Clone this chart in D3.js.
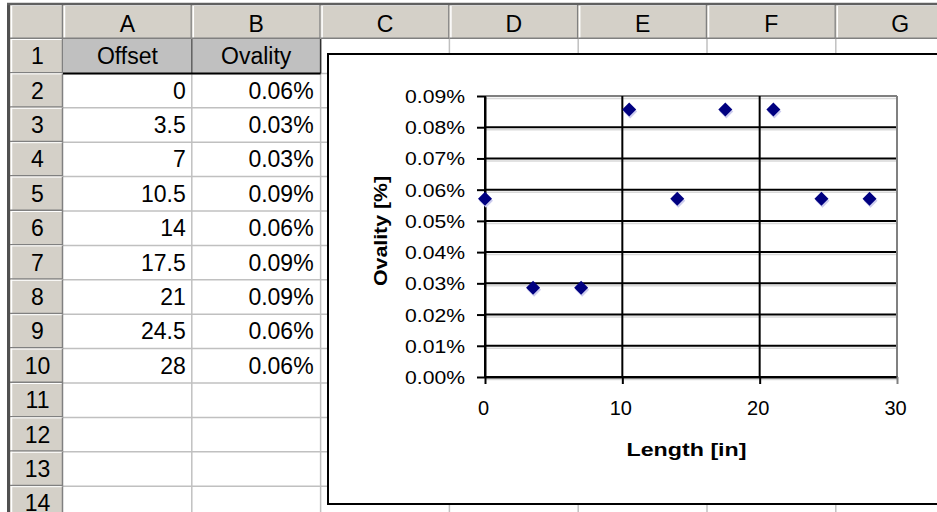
<!DOCTYPE html>
<html>
<head>
<meta charset="utf-8">
<script src="https://cdn.jsdelivr.net/npm/d3@7"></script>
<style>
  html, body { margin: 0; padding: 0; background: #fff; }
  svg { display: block; }
  text { font-family: "Liberation Sans", Arial, sans-serif; }
</style>
</head>
<body>
<svg id="chart" width="937" height="512"></svg>
<script>
// ---------- data ----------
const colLetters = ["A", "B", "C", "D", "E", "F", "G"];
const rowNumbers = [1, 2, 3, 4, 5, 6, 7, 8, 9, 10, 11, 12, 13, 14];
const headerLabels = ["Offset", "Ovality"];
const offsets = [0, 3.5, 7, 10.5, 14, 17.5, 21, 24.5, 28];
const ovality = [0.0571, 0.0286, 0.0286, 0.0857, 0.0571, 0.0857, 0.0857, 0.0571, 0.0571]; // percent
const yTicks = [0, 0.01, 0.02, 0.03, 0.04, 0.05, 0.06, 0.07, 0.08, 0.09];
const xTicks = [0, 10, 20, 30];
const xTitle = "Length [in]";
const yTitle = "Ovality [%]";

const svg = d3.select("#chart");
const W = 937, H = 512;

// ---------- spreadsheet geometry ----------
const rowHeadL = 10, colStart = 63, colW = 128.8;
const headTop = 5, headBot = 39, rowH = 34.4;
const colX = i => colStart + i * colW;
const rowY = n => headBot + (n - 1) * rowH;   // top of row n

const sheet = svg.append("g");
sheet.append("rect").attr("width", W).attr("height", H).attr("fill", "#fff");

// grid lines
colLetters.forEach((c, i) => {
  sheet.append("line").attr("x1", colX(i + 1)).attr("x2", colX(i + 1))
    .attr("y1", headBot).attr("y2", H).attr("stroke", "#c0c0c0").attr("stroke-width", 1.5);
});
rowNumbers.forEach(n => {
  sheet.append("line").attr("x1", colStart).attr("x2", W)
    .attr("y1", rowY(n + 1)).attr("y2", rowY(n + 1)).attr("stroke", "#c0c0c0").attr("stroke-width", 1.5);
});

// header cells
function headerCell(x, y, w, h) {
  sheet.append("rect").attr("x", x).attr("y", y).attr("width", w).attr("height", h).attr("fill", "#d4d0c8");
  sheet.append("line").attr("x1", x + 1).attr("x2", x + w).attr("y1", y + 0.5).attr("y2", y + 0.5).attr("stroke", "#fff");
  sheet.append("line").attr("x1", x + 1.5).attr("x2", x + 1.5).attr("y1", y).attr("y2", y + h).attr("stroke", "#fff").attr("stroke-width", 1.5);
  sheet.append("line").attr("x1", x + w - 0.5).attr("x2", x + w - 0.5).attr("y1", y).attr("y2", y + h).attr("stroke", "#808080").attr("stroke-width", 1.5);
  sheet.append("line").attr("x1", x).attr("x2", x + w).attr("y1", y + h - 0.75).attr("y2", y + h - 0.75).attr("stroke", "#808080").attr("stroke-width", 1.5);
}
headerCell(rowHeadL, headTop, colStart - rowHeadL, headBot - headTop);
colLetters.forEach((c, i) => {
  headerCell(colX(i), headTop, colW, headBot - headTop);
  sheet.append("text").attr("x", colX(i) + colW / 2).attr("y", headBot - 7)
    .attr("text-anchor", "middle").attr("font-size", 23).attr("fill", "#000").text(c);
});
rowNumbers.forEach(n => {
  headerCell(rowHeadL, rowY(n), colStart - rowHeadL, rowH);
  sheet.append("text").attr("x", (rowHeadL + colStart) / 2 + 1).attr("y", rowY(n) + rowH / 2 + 8)
    .attr("text-anchor", "middle").attr("font-size", 23).attr("fill", "#000").text(n);
});

// outer dark frame
sheet.append("line").attr("x1", 8.5).attr("x2", 8.5).attr("y1", 3).attr("y2", H).attr("stroke", "#505050").attr("stroke-width", 3);
sheet.append("line").attr("x1", 7).attr("x2", W).attr("y1", 4).attr("y2", 4).attr("stroke", "#606060").attr("stroke-width", 2.5);

// row 1 header cells (A1:B1)
headerLabels.forEach((lab, i) => {
  sheet.append("rect").attr("x", colX(i)).attr("y", rowY(1)).attr("width", colW).attr("height", rowH)
    .attr("fill", "#c0c0c0");
  sheet.append("text").attr("x", colX(i) + colW / 2).attr("y", rowY(1) + rowH / 2 + 8)
    .attr("text-anchor", "middle").attr("font-size", 23).attr("fill", "#000").text(lab);
});
sheet.append("line").attr("x1", colX(1)).attr("x2", colX(1)).attr("y1", rowY(1)).attr("y2", rowY(2))
  .attr("stroke", "#606060").attr("stroke-width", 1.5);
sheet.append("line").attr("x1", colX(2)).attr("x2", colX(2)).attr("y1", rowY(1)).attr("y2", rowY(2))
  .attr("stroke", "#303030").attr("stroke-width", 1.5);
sheet.append("line").attr("x1", colX(0)).attr("x2", colX(2)).attr("y1", rowY(2)).attr("y2", rowY(2))
  .attr("stroke", "#000").attr("stroke-width", 2);

// data cells
const fmtPct = d3.format(".2f");
offsets.forEach((o, i) => {
  const r = i + 2;
  sheet.append("text").attr("x", colX(1) - 6).attr("y", rowY(r) + rowH / 2 + 8)
    .attr("text-anchor", "end").attr("font-size", 23).attr("fill", "#000").text(o);
  sheet.append("text").attr("x", colX(2) - 7).attr("y", rowY(r) + rowH / 2 + 8)
    .attr("text-anchor", "end").attr("font-size", 23).attr("fill", "#000").text(fmtPct(ovality[i]) + "%");
});

// ---------- chart object ----------
const chart = svg.append("g");
chart.append("rect").attr("x", 328).attr("y", 54).attr("width", 700).attr("height", 450)
  .attr("fill", "#fff").attr("stroke", "#000").attr("stroke-width", 2);

const x = d3.scaleLinear().domain([0, 30]).range([485, 897]);
const y = d3.scaleLinear().domain([0, 0.09]).range([377, 96]);

// horizontal gridlines (with faint shadow)
yTicks.forEach(t => {
  chart.append("line").attr("x1", x(0)).attr("x2", x(30)).attr("y1", y(t) + 2.5).attr("y2", y(t) + 2.5)
    .attr("stroke", "#d9d9d9").attr("stroke-width", 1.5);
});
yTicks.forEach(t => {
  chart.append("line").attr("x1", x(0)).attr("x2", x(30)).attr("y1", y(t)).attr("y2", y(t))
    .attr("stroke", t === 0.09 ? "#808080" : "#000").attr("stroke-width", 2);
});
// vertical gridlines
xTicks.forEach(t => {
  chart.append("line").attr("x1", x(t)).attr("x2", x(t)).attr("y1", y(0.09)).attr("y2", y(0))
    .attr("stroke", t === 30 ? "#808080" : "#000").attr("stroke-width", 2);
});

// y axis
const yAxis = d3.axisLeft(y).tickValues(yTicks).tickSize(8).tickSizeOuter(0)
  .tickFormat(d => d3.format(".2f")(d) + "%");
const gy = chart.append("g").attr("transform", `translate(${x(0)},0)`).call(yAxis);
gy.select(".domain").attr("stroke", "#000").attr("stroke-width", 2);
gy.selectAll(".tick line").attr("stroke", "#000").attr("stroke-width", 2);
gy.selectAll(".tick text").attr("x", -20).attr("dy", "0.36em")
  .attr("font-size", 18).attr("fill", "#000")
  .attr("textLength", 60).attr("lengthAdjust", "spacingAndGlyphs")
  .style("font-family", "'Liberation Sans', Arial, sans-serif");

// x axis
const xAxis = d3.axisBottom(x).tickValues(xTicks).tickSize(7).tickSizeOuter(0);
const gx = chart.append("g").attr("transform", `translate(0,${y(0)})`).call(xAxis);
gx.select(".domain").attr("stroke", "#000").attr("stroke-width", 2);
gx.selectAll(".tick line").attr("stroke", d => d === 30 ? "#808080" : "#000").attr("stroke-width", 2);
gx.selectAll(".tick text").attr("y", 24).attr("dy", "0.71em").attr("dx", -2)
  .attr("font-size", 20).attr("fill", "#000").style("font-family", "'Liberation Sans', Arial, sans-serif");

// markers
const diamond = (cx, cy, r) => `M${cx},${cy - r}L${cx + r},${cy}L${cx},${cy + r}L${cx - r},${cy}Z`;
const pts = offsets.map((o, i) => ({ o, v: ovality[i] }));
chart.selectAll("path.shadow").data(pts).enter().append("path").attr("class", "shadow")
  .attr("d", d => diamond(x(d.o) + 1, y(d.v) + 2, 7)).attr("fill", "#ccccee");
chart.selectAll("path.pt").data(pts).enter().append("path").attr("class", "pt")
  .attr("d", d => diamond(x(d.o), y(d.v), 7)).attr("fill", "#000080");

// axis titles
chart.append("text").attr("x", 686.5).attr("y", 456).attr("text-anchor", "middle")
  .attr("font-size", 19).attr("font-weight", "bold").attr("fill", "#000")
  .attr("textLength", 120).attr("lengthAdjust", "spacingAndGlyphs").text(xTitle);
chart.append("text").attr("transform", "translate(387,231) rotate(-90)").attr("text-anchor", "middle")
  .attr("font-size", 19).attr("font-weight", "bold").attr("fill", "#000")
  .attr("textLength", 110).attr("lengthAdjust", "spacingAndGlyphs").text(yTitle);
</script>
</body>
</html>
